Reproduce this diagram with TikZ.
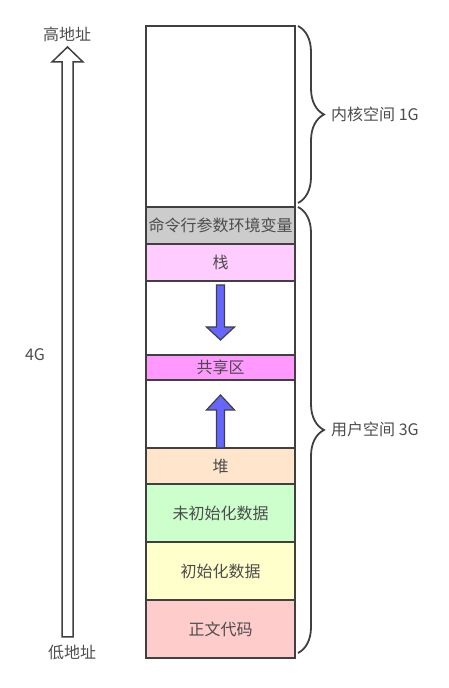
\documentclass[tikz,border=0pt]{standalone}
\usepackage{fontspec}
\setmainfont{Noto Sans CJK SC}
\usepackage{tikz}
\usetikzlibrary{
  arrows.meta,
  positioning,
  chains,
  calc,
  decorations.pathreplacing
}
\usepackage{xcolor}
\definecolor{lineGray}{rgb}{0.25,0.25,0.25}
\definecolor{textGray}{rgb}{0.3,0.3,0.3}
\definecolor{envGray}{rgb}{0.8,0.8,0.8}
\definecolor{stackPink}{rgb}{1,0.8,1}
\definecolor{sharePink}{rgb}{1,0.6,1}
\definecolor{heapPeach}{rgb}{1,0.9,0.8}
\definecolor{bssGreen}{rgb}{0.8,1,0.8}
\definecolor{dataYellow}{rgb}{1,1,0.8}
\definecolor{codeRed}{rgb}{1,0.8,0.8}
\definecolor{growBlue}{rgb}{0.4,0.4,1}
\newcommand{\memSegment}[4]{\node[memSeg,on chain,fill=#2,minimum height=#3] (#1) {#4};}
\tikzset{
  memSeg/.style={
    rectangle,
    draw=lineGray,
    line width=2pt,
    minimum width=149pt,
    outer sep=0pt,
    inner sep=0pt,
    text=textGray,
    font=\fontsize{16}{16}\selectfont
  }
}
\tikzset{
  growArrow/.style={
    fill=growBlue,
    draw=lineGray,
    line width=1.2pt,
    line join=miter
  }
}
\tikzset{
  addrArrow/.style={
    fill=white,
    draw=lineGray,
    line width=1.5pt
  }
}
\tikzset{
  memBrace/.style={
    decorate,
    decoration={brace,amplitude=26pt},
    draw=lineGray,
    line width=1.8pt
  }
}
\tikzset{
  sideLabel/.style={
    text=textGray,
    inner sep=0pt,
    font=\fontsize{16}{16}\selectfont
  }
}

\begin{document}
\begin{tikzpicture}[x=1pt, y=1pt, start chain=going below, node distance=0pt]
    \useasboundingbox (0,0) rectangle (448,688);
    \node[memSeg,on chain,fill=white,minimum height=181pt,anchor=north] at (220.5,662) (kernel) {};
    \memSegment{env}{envGray}{37pt}{命令行参数环境变量}
    \memSegment{stack}{stackPink}{37pt}{栈}
    \memSegment{gapDown}{white}{74pt}{}
    \memSegment{share}{sharePink}{25pt}{共享区}
    \memSegment{gapUp}{white}{68pt}{}
    \memSegment{heap}{heapPeach}{36pt}{堆}
    \memSegment{bss}{bssGreen}{58pt}{未初始化数据}
    \memSegment{data}{dataYellow}{58pt}{初始化数据}
    \memSegment{code}{codeRed}{58pt}{正文代码}
    % growth arrows
    \draw[growArrow]
    ($(gapDown.north)+(-4,-4)$) -- ++(0,-42)
    -- ++(-10,0)
    -- ($(gapDown.north)+(0,-59)$)
    -- ($(gapDown.north)+(14,-46)$)
    -- ++(-10,0)
    -- ($(gapDown.north)+(4,-4)$) -- cycle;
    \draw[growArrow]
    ($(gapUp.south)+(-4,0)$) -- ++(0,38)
    -- ++(-10,0)
    -- ($(gapUp.south)+(0,53)$)
    -- ($(gapUp.south)+(14,38)$)
    -- ++(-10,0)
    -- ($(gapUp.south)+(4,0)$) -- cycle;
    % address axis
    \node[sideLabel] (high) at (67,654) {高地址};
    \node[sideLabel] (low) at (72,36) {低地址};
    \node[sideLabel] (size) at (35,333) {4G};
    \draw[addrArrow]
    (62,51) -- (62,626) -- (52,626) -- (67.5,641)
    -- (83,626) -- (73,626) -- (73,51) -- cycle;
    % braces
    \draw[memBrace] ($(kernel.north east)+(3,0)$) -- ($(kernel.south east)+(3,4)$);
    \node[sideLabel,anchor=west] (kernelSize) at ($(kernel.east)+(36,2)$) {内核空间 1G};
    \draw[memBrace] ($(env.north east)+(3,0)$) -- ($(code.south east)+(3,5)$);
    \node[sideLabel,anchor=west] (userSize) at ($(env.north east)!0.5!(code.south east)+(36,3)$) {用户空间 3G};
\end{tikzpicture}
\end{document}
